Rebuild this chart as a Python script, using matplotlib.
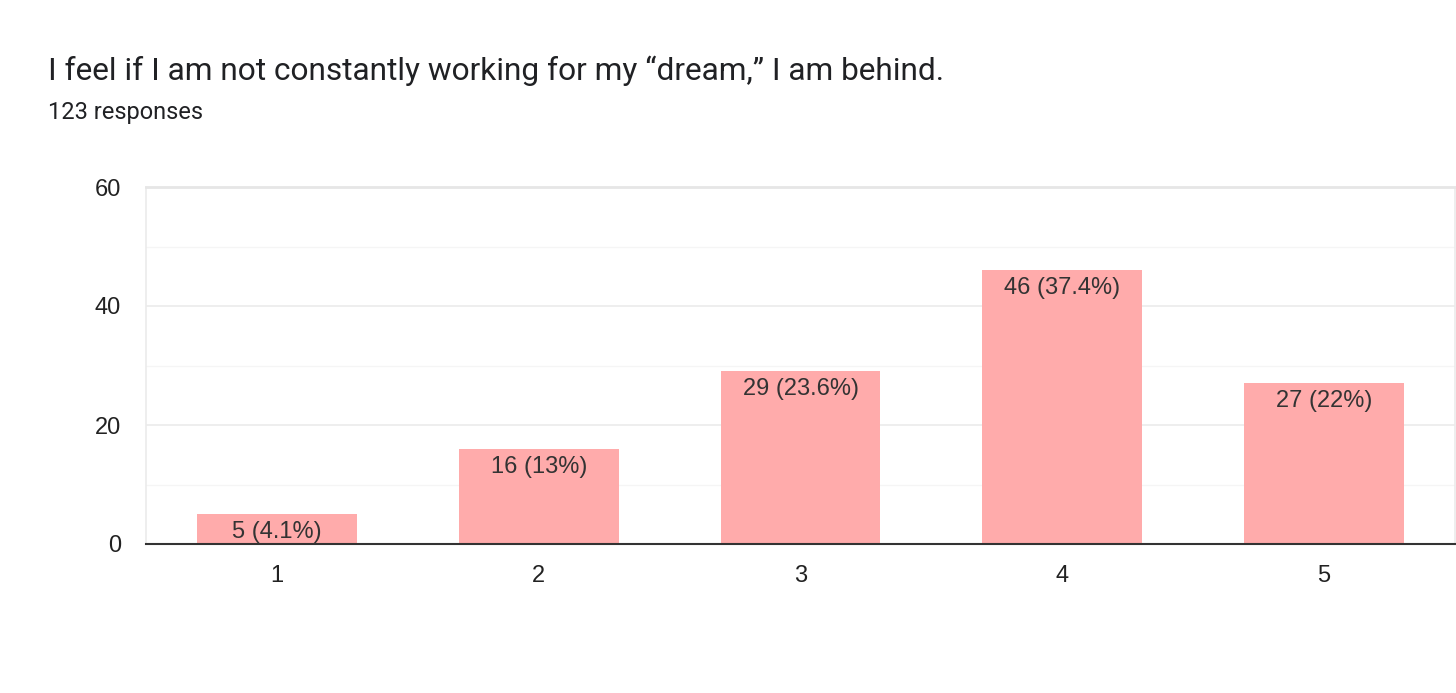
import matplotlib
matplotlib.use("Agg")
import matplotlib.pyplot as plt

categories = ["1", "2", "3", "4", "5"]
counts = [5, 16, 29, 46, 27]
labels = ["5 (4.1%)", "16 (13%)", "29 (23.6%)", "46 (37.4%)", "27 (22%)"]
yticks = [0, 20, 40, 60]
minor_ticks = [10, 30, 50]
title = "I feel if I am not constantly working for my \u201cdream,\u201d I am behind."
subtitle = "123 responses"

plt.rcParams['font.family'] = ['Liberation Sans', 'DejaVu Sans']

fig = plt.figure(figsize=(14.56, 6.93), dpi=100)
ax = fig.add_axes([146/1456, 1-544/693, (1455-146)/1456, (544-187)/693])

x = list(range(1, len(categories)+1))
ax.bar(x, counts, width=0.61, color="#ffabab", zorder=3)
for xi, c, lab in zip(x, counts, labels):
    ax.annotate(lab, (xi, c), xytext=(0, -5), textcoords="offset points",
                ha="center", va="top", fontsize=17, color="#333333", zorder=4)

ax.set_xlim(0.5, 5.5)
ax.set_ylim(0, 60)
ax.set_xticks(x)
ax.set_xticklabels(categories)
ax.set_yticks(yticks)
ax.set_yticks(minor_ticks, minor=True)
ax.tick_params(axis='both', length=0, labelsize=17, colors="#222222")
ax.tick_params(axis='x', pad=15)
ax.tick_params(axis='y', pad=18)
ax.tick_params(axis='y', which='minor', length=0)
for yv in yticks[1:-1]:
    ax.axhline(yv, color="#ebebeb", lw=1.2, zorder=1)
for yv in minor_ticks:
    ax.axhline(yv, color="#f5f5f5", lw=1.0, zorder=1)

for s in ["left", "right"]:
    ax.spines[s].set_color("#ebebeb")
    ax.spines[s].set_linewidth(1.2)
ax.spines["top"].set_color("#e6e6e6")
ax.spines["top"].set_linewidth(2)
ax.spines["bottom"].set_color("#333333")
ax.spines["bottom"].set_linewidth(1.5)
ax.spines["bottom"].set_zorder(5)

fig.text(48/1456, 1-71/693, title, fontsize=22.8, color="#202124", va="center", ha="left",
         family=['Roboto', 'DejaVu Sans'])
fig.text(48/1456, 1-113/693, subtitle, fontsize=17, color="#202124", va="center", ha="left",
         family=['Roboto', 'DejaVu Sans'])

fig.savefig("out.png", dpi=100, facecolor="white")
